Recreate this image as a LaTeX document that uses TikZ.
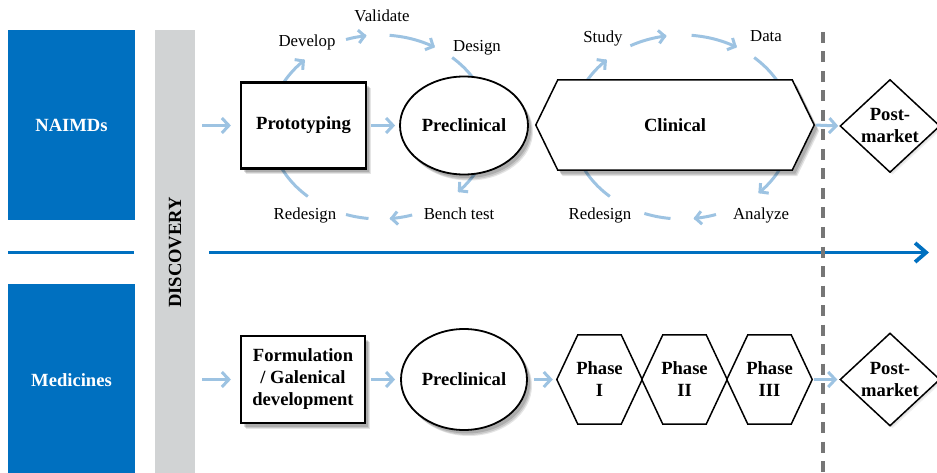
\documentclass[tikz,border=0pt]{standalone}
\usepackage{fontspec}
\setmainfont{Liberation Serif}
\usetikzlibrary{arrows.meta,shapes.geometric,calc}
\definecolor{nblue}{RGB}{0,112,192}
\definecolor{barg}{RGB}{209,211,212}
\definecolor{lblue}{RGB}{157,195,226}
\definecolor{dgray}{RGB}{118,118,118}
\pgfdeclarelayer{arcs}
\pgfdeclarelayer{shapes}
\pgfsetlayers{arcs,shapes,main}
\newcommand\cycarc[5]{\draw[cycline,#5] plot[domain=#3:#4,samples=30,smooth] ({#1+110*cos(\x)},{#2-92*sin(\x)});}
\newcommand\hexfill[3]{\path[hexline,#3] (#1.west) -- ([xshift=#2]#1.north west) -- ([xshift=-#2]#1.north east) -- (#1.east) -- ([xshift=-#2]#1.south east) -- ([xshift=#2]#1.south west) -- cycle;}
\tikzset{
 shadowed/.style={
   preaction={draw=none, fill=black, fill opacity=0.10, transform canvas={xshift=5pt, yshift=-6pt}},
   preaction={draw=none, fill=black, fill opacity=0.12, transform canvas={xshift=4pt, yshift=-5pt}},
   preaction={draw=none, fill=black, fill opacity=0.14, transform canvas={xshift=3pt, yshift=-3.5pt}}},
 lightshadow/.style={
   preaction={draw=none, fill=black, fill opacity=0.06, transform canvas={xshift=2.5pt, yshift=-2.5pt}},
   preaction={draw=none, fill=black, fill opacity=0.06, transform canvas={xshift=1.5pt, yshift=-1.5pt}}},
 boxtext/.style={font=\fontsize{18.6}{22}\selectfont\bfseries, align=center, inner sep=0pt},
 bluebox/.style={boxtext, fill=nblue, draw=none, minimum width=127pt, text=white},
 rectnode/.style={boxtext, draw, line width=2.2pt, fill=white, shadowed},
 ellnode/.style={boxtext, ellipse, draw, line width=1.8pt, fill=white, shadowed},
 diamnode/.style={boxtext, diamond, draw, line width=1.5pt, fill=white, lightshadow, minimum width=100pt, minimum height=93pt},
 hexline/.style={draw, line width=1.5pt, fill=white},
 lab/.style={font=\fontsize{16.8}{20}\selectfont, anchor=base, inner sep=0pt},
 cycline/.style={draw=lblue, line width=3pt},
 cyctip/.style={-{Straight Barb[length=6pt,width=13pt]}},
 flowarrow/.style={draw=lblue, line width=3pt, -{Straight Barb[length=7pt,width=15pt]}},
 timeline/.style={draw=nblue, line width=3.8pt},
}
\begin{document}
\begin{tikzpicture}[x=1pt,y=-1pt]
\useasboundingbox (0,0) rectangle (937,473);
% cycles (behind shapes)
\begin{pgfonlayer}{arcs}
\cycarc{380}{127}{155}{133}{cyctip}
\cycarc{380}{127}{108}{97}{cyctip}
\cycarc{380}{127}{85}{60}{cyctip}
\cycarc{380}{127}{49}{25}{}
\cycarc{380}{127}{-20}{-45}{cyctip}
\cycarc{380}{127}{-73}{-85}{cyctip}
\cycarc{380}{127}{-96}{-108}{}
\cycarc{380}{127}{-131}{-160}{}
\cycarc{682}{127}{155}{133}{cyctip}
\cycarc{682}{127}{118}{98}{cyctip}
\cycarc{682}{127}{85}{60}{cyctip}
\cycarc{682}{127}{49}{25}{}
\cycarc{682}{127}{-20}{-46}{cyctip}
\cycarc{682}{127}{-72}{-84}{cyctip}
\cycarc{682}{127}{-96}{-110}{}
\cycarc{682}{127}{-131}{-160}{}
\end{pgfonlayer}
% left column
\node[bluebox, minimum height=190pt] (naimd) at (71.5,125) {NAIMDs};
\node[bluebox, minimum height=192pt] (med) at (71.5,380) {Medicines};
\node[boxtext, fill=barg, minimum width=445pt, minimum height=40pt, rotate=90] (disc) at (175,252.5) {DISCOVERY};
% timeline
\coordinate (blS) at (8,252.5);
\coordinate (blE) at (134,252.5);
\coordinate (tlS) at (209,252.5);
\coordinate (tlE) at (929,252.5);
\draw[timeline] (blS) -- (blE);
\draw[timeline, -{Straight Barb[length=11pt,width=19pt]}] (tlS) -- (tlE);
% top row
\node[rectnode, minimum width=125pt, minimum height=86pt] (proto) at (303.5,125.5) {Prototyping};
\node[ellnode, minimum width=128pt, minimum height=98pt] (pre1) at (464,125.5) {Preclinical};
\node[boxtext, minimum width=278pt, minimum height=90pt] (clin) at (675,125) {Clinical};
\node[diamnode] (post1) at (890,126) {Post-\\market};
% bottom row
\node[rectnode, minimum width=124pt, minimum height=87pt] (form) at (303,379.5) {Formulation\\/ Galenical\\development};
\node[ellnode, minimum width=126pt, minimum height=101pt] (pre2) at (464,379.5) {Preclinical};
\node[boxtext, minimum width=85pt, minimum height=89pt] (ph1) at (599.5,379.5) {Phase\\I};
\node[boxtext, minimum width=85pt, minimum height=89pt] (ph2) at (684.5,379.5) {Phase\\II};
\node[boxtext, minimum width=85pt, minimum height=89pt] (ph3) at (769.5,379.5) {Phase\\III};
\node[diamnode] (post2) at (890,379.5) {Post-\\market};
\begin{pgfonlayer}{shapes}
\hexfill{clin}{22pt}{shadowed}
\hexfill{ph1}{21pt}{}
\hexfill{ph2}{21pt}{}
\hexfill{ph3}{21pt}{}
\end{pgfonlayer}
% dashed boundary
\coordinate (dT) at (823,32);
\coordinate (dB) at (823,476);
\draw[dgray, line width=3.2pt, dash pattern=on 11pt off 8.5pt] (dT) -- (dB);
% flow arrows
\draw[flowarrow, shorten <=7pt, shorten >=9pt] (disc.south |- proto.west) -- (proto.west);
\draw[flowarrow, shorten <=4pt, shorten >=4pt] (proto.east) -- (pre1.west);
\draw[flowarrow, shorten <=2pt, shorten >=1pt] (clin.east) -- (post1.west);
\draw[flowarrow, shorten <=7pt, shorten >=9pt] (disc.south |- form.west) -- (form.west);
\draw[flowarrow, shorten <=5pt, shorten >=5pt] (form.east) -- (pre2.west);
\draw[flowarrow, shorten <=6pt, shorten >=4pt] (pre2.east) -- (ph1.west);
\draw[flowarrow, shorten <=2pt, shorten >=2pt] (ph3.east) -- (post2.west);
% cycle labels
\node[lab] (lDev) at (307,47) {Develop};
\node[lab] (lVal) at (382,22) {Validate};
\node[lab] (lDes) at (477,52) {Design};
\node[lab] (lRe1) at (305,219) {Redesign};
\node[lab] (lBen) at (459,219) {Bench test};
\node[lab] (lStu) at (603,43) {Study};
\node[lab] (lDat) at (766,42) {Data};
\node[lab] (lRe2) at (600,219) {Redesign};
\node[lab] (lAna) at (761,219) {Analyze};
\end{tikzpicture}
\end{document}
